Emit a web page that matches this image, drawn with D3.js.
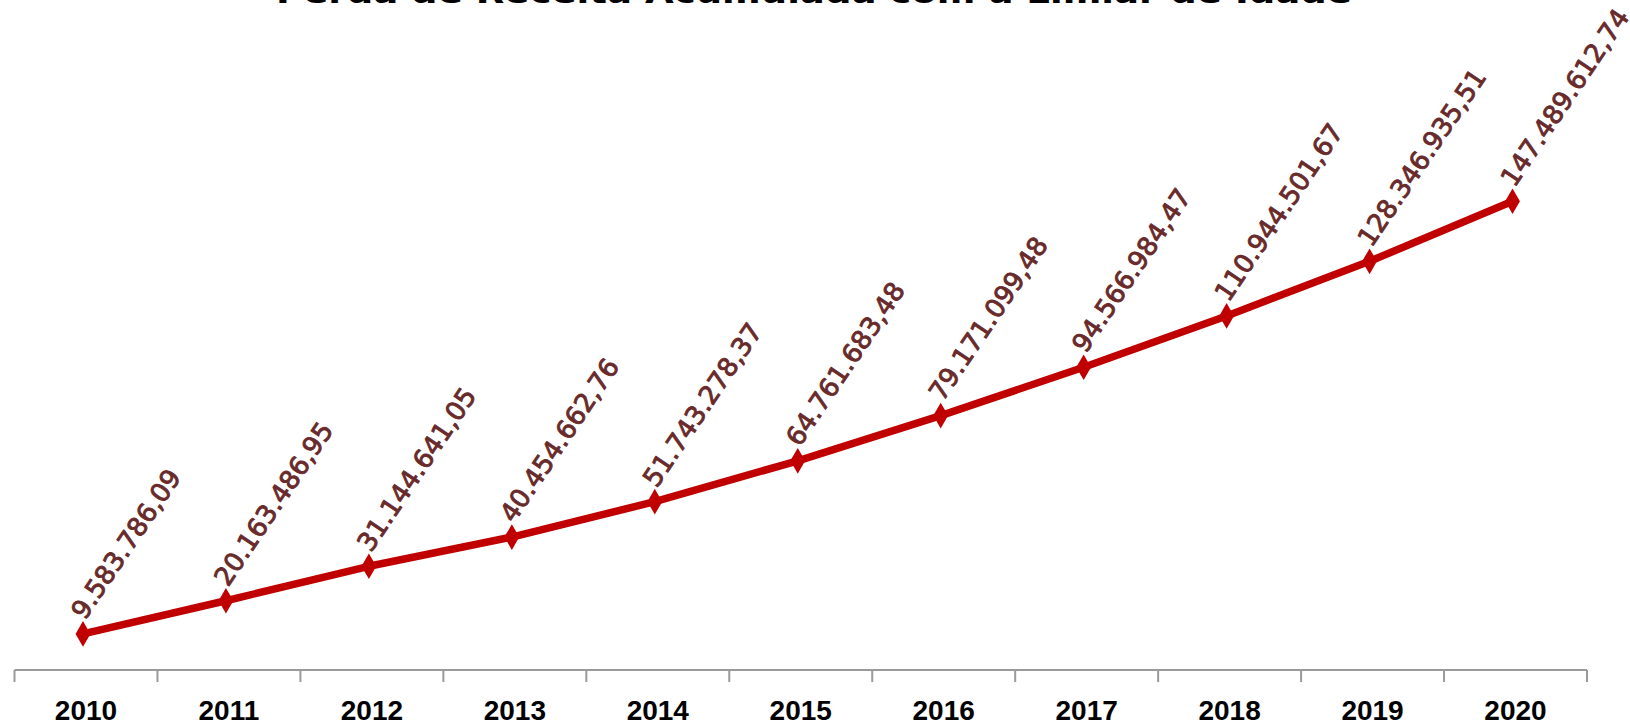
<!DOCTYPE html>
<html>
<head>
<meta charset="utf-8">
<script src="https://cdn.jsdelivr.net/npm/d3@7"></script>
<style>
  body { margin: 0; background: #fff; }
  svg { display: block; }
</style>
</head>
<body>
<div id="chart"></div>
<script>
// dados
var anos = ["2010", "2011", "2012", "2013", "2014", "2015", "2016", "2017", "2018", "2019", "2020"];
var perda = [9583786.09, 20163486.95, 31144641.05, 40454662.76, 51743278.37, 64761683.48,
             79171099.48, 94566984.47, 110944501.67, 128346935.51, 147489612.74];
var titulo = "Perda de Receita Acumulada com a Limiar de Idade";

var width = 1630, height = 722;
var margins = {left: 14.5, right: 43, top: 162, bottom: 55};

var svg = d3.select("#chart").append("svg")
    .attr("width", width)
    .attr("height", height);

var x = d3.scaleBand()
    .domain(anos)
    .range([margins.left, width - margins.right])
    .padding(0);

var y = d3.scaleLinear()
    .domain([0, 160000000])
    .range([height - margins.bottom - 3, margins.top]);

var eixoY = height - margins.bottom + 3;

// titulo (cortado no topo)
svg.append("text")
    .attr("x", 276)
    .attr("y", 3)
    .attr("textLength", 1076)
    .attr("lengthAdjust", "spacingAndGlyphs")
    .style("font-family", "DejaVu Sans, sans-serif")
    .style("font-weight", "bold")
    .style("font-size", "30px")
    .style("fill", "#000")
    .text(titulo);

// eixo x
var gX = svg.append("g")
    .attr("transform", "translate(0," + eixoY + ")");
gX.append("line")
    .attr("x1", x.range()[0]).attr("x2", x.range()[1])
    .attr("y1", 0).attr("y2", 0)
    .style("stroke", "#9a9a9a").style("stroke-width", 2);
var bordas = anos.map(function(d){ return x(d); }).concat([x.range()[1]]);
gX.selectAll(".tick-line")
    .data(bordas)
    .enter().append("line")
    .attr("class", "tick-line")
    .attr("x1", function(d){ return d; }).attr("x2", function(d){ return d; })
    .attr("y1", 0).attr("y2", 12)
    .style("stroke", "#9a9a9a").style("stroke-width", 2);
gX.selectAll(".tick-label")
    .data(anos)
    .enter().append("text")
    .attr("class", "tick-label")
    .attr("x", function(d){ return x(d) + x.bandwidth() / 2; })
    .attr("y", 720 - eixoY)
    .attr("text-anchor", "middle")
    .style("font-family", "Liberation Sans, Arial, sans-serif")
    .style("font-weight", "bold")
    .style("font-size", "28px")
    .style("fill", "#000")
    .text(function(d){ return d; });

// linha
var pontos = anos.map(function(a, i){ return {ano: a, valor: perda[i]}; });
var cx = function(d){ return x(d.ano) + x.bandwidth() / 2 - 3; };

var linha = d3.line()
    .x(cx)
    .y(function(d){ return y(d.valor); });

svg.append("path")
    .datum(pontos)
    .attr("d", linha)
    .style("fill", "none")
    .style("stroke", "#c00000")
    .style("stroke-width", 7.5)
    .style("stroke-linejoin", "round");

svg.selectAll(".marcador")
    .data(pontos)
    .enter().append("path")
    .attr("class", "marcador")
    .attr("d", d3.symbol().type(d3.symbolDiamond).size(190))
    .attr("transform", function(d){ return "translate(" + cx(d) + "," + y(d.valor) + ")"; })
    .style("fill", "#c00000");

// rotulos
var fmt = function(v){
    var partes = v.toFixed(2).split(".");
    var inteiro = partes[0].replace(/\B(?=(\d{3})+(?!\d))/g, ".");
    return inteiro + "," + partes[1];
};

svg.selectAll(".rotulo")
    .data(pontos)
    .enter().append("text")
    .attr("class", "rotulo")
    .attr("transform", function(d){
        return "translate(" + (cx(d) + 2) + "," + (y(d.valor) - 13) + ") rotate(-56)";
    })
    .style("font-family", "DejaVu Sans, sans-serif")
    .style("font-size", "26px")
    .style("fill", "#682a2a")
    .style("stroke", "#682a2a")
    .style("stroke-width", 0.9)
    .text(function(d){ return fmt(d.valor); });
</script>
</body>
</html>
